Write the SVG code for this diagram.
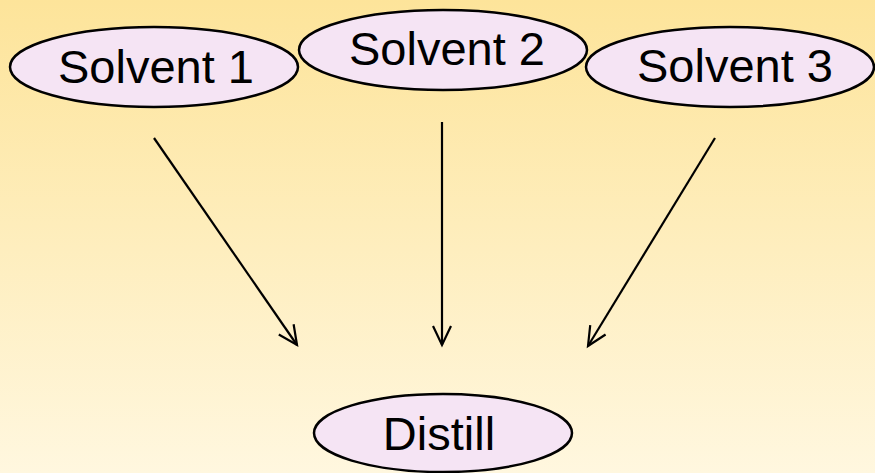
<svg xmlns="http://www.w3.org/2000/svg" width="875" height="473" viewBox="0 0 875 473">
<defs>
<linearGradient id="bg" x1="0" y1="0" x2="0" y2="1">
<stop offset="0" stop-color="#FDE49A"/>
<stop offset="1" stop-color="#FFF7DF"/>
</linearGradient>
<marker id="arr" markerWidth="26" markerHeight="26" viewBox="-22 -13 26 26" refX="0" refY="0" orient="auto" markerUnits="userSpaceOnUse">
<path d="M-19,-9 L0,0 L-19,9" fill="none" stroke="#000" stroke-width="2.2"/>
</marker>
</defs>
<style>
.node ellipse{fill:#F5E4F4;stroke:#000;stroke-width:2.5}
.node text{font-family:"Liberation Sans",Arial,sans-serif;font-size:47px;fill:#000;text-anchor:middle}
.conn line{stroke:#000;stroke-width:2.2;marker-end:url(#arr)}
</style>
<rect width="875" height="473" fill="url(#bg)"/>
<g id="connectors" class="conn">
<line x1="154" y1="138" x2="297" y2="345"/>
<line x1="442" y1="122" x2="442" y2="345"/>
<line x1="715" y1="138" x2="588" y2="346"/>
</g>
<g id="solvent1" class="node">
<ellipse cx="154" cy="67" rx="144" ry="40"/>
<text x="156" y="83">Solvent 1</text>
</g>
<g id="solvent2" class="node">
<ellipse cx="443" cy="50" rx="144" ry="40"/>
<text x="447" y="65">Solvent 2</text>
</g>
<g id="solvent3" class="node">
<ellipse cx="730" cy="67" rx="144" ry="40"/>
<text x="735" y="82">Solvent 3</text>
</g>
<g id="distill" class="node">
<ellipse cx="443" cy="433" rx="129" ry="39"/>
<text x="439" y="450">Distill</text>
</g>
</svg>
